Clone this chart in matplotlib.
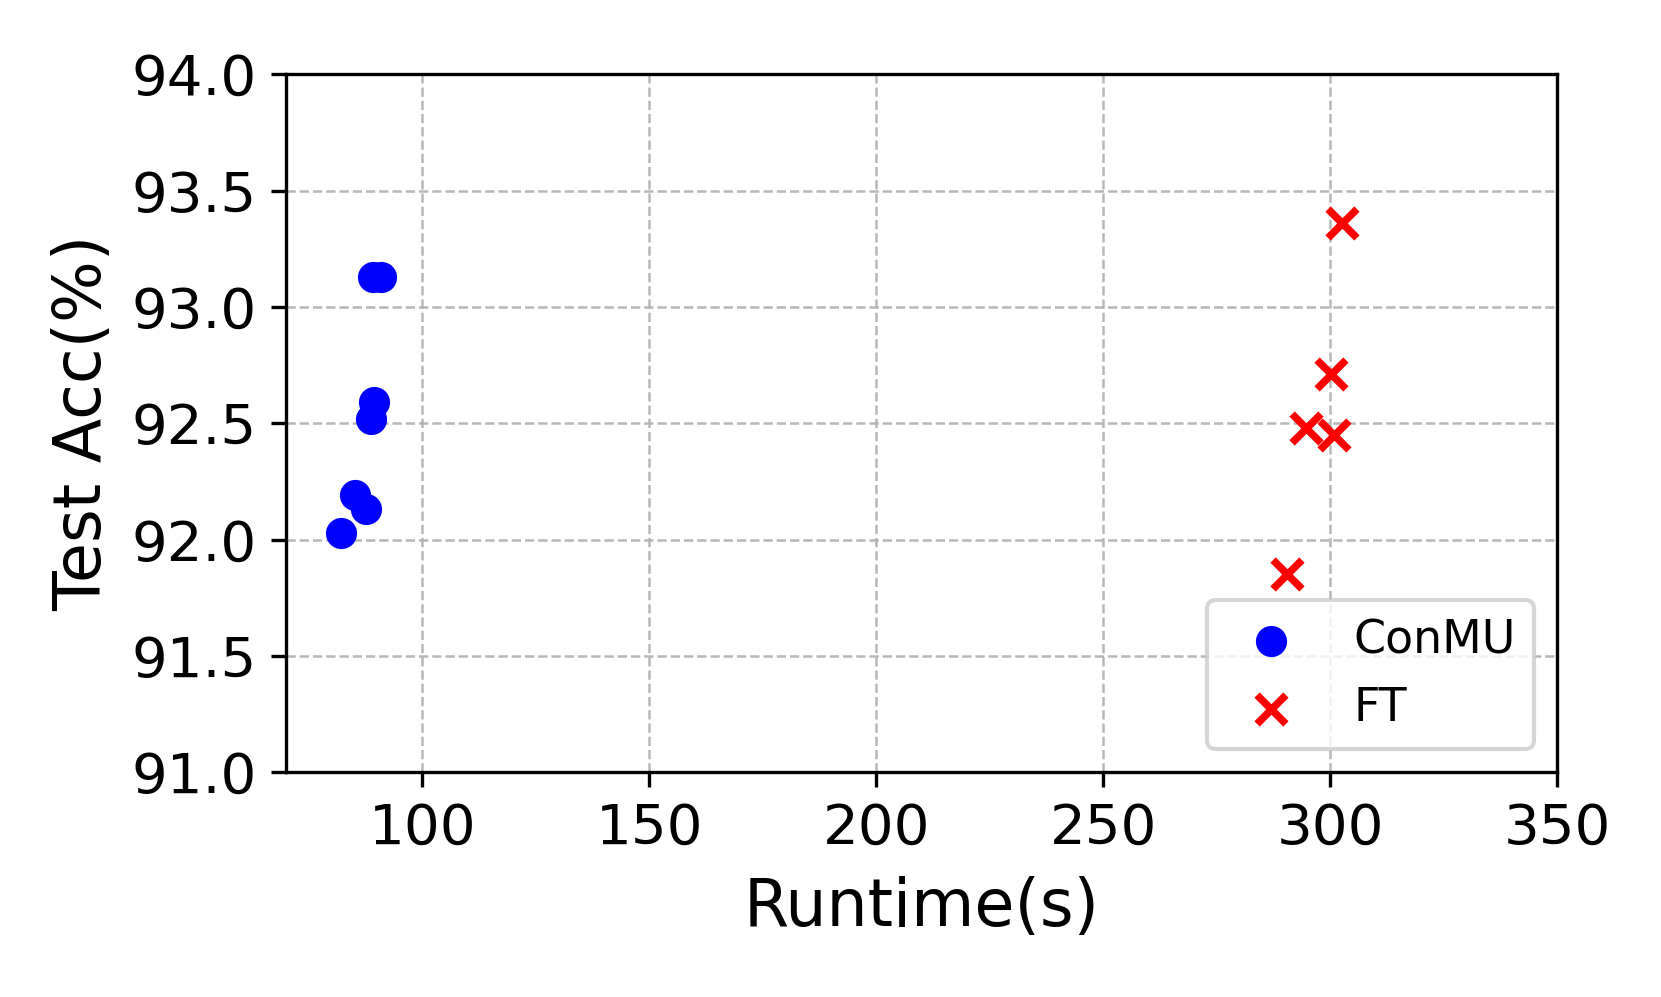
import numpy as np
import matplotlib
matplotlib.use("Agg")
import matplotlib.pyplot as plt


# ConMU runs (runtime in s, test accuracy in %)
conmu_runtime = [89.1, 91.0, 89.3, 88.8, 85.2, 87.7, 82.2]
conmu_acc = [93.13, 93.13, 92.59, 92.52, 92.19, 92.13, 92.03]

# FT runs
ft_runtime = [302.5, 300.1, 294.6, 300.8, 290.5]
ft_acc = [93.36, 92.71, 92.48, 92.45, 91.85]

x_ticks = [100, 150, 200, 250, 300, 350]
y_ticks = [91.0, 91.5, 92.0, 92.5, 93.0, 93.5, 94.0]


fig = plt.figure(figsize=(1661 / 300, 997 / 300), dpi=300)
ax = fig.add_axes([0.1722, 0.2255, 0.9375 - 0.1722, 0.9256 - 0.2255])

ax.scatter(conmu_runtime, conmu_acc, s=42, color="blue", marker="o", label="ConMU", zorder=3)
ax.scatter(ft_runtime, ft_acc, s=48, color="red", marker="x", linewidths=1.8, label="FT", zorder=3)

ax.set_xlim(70, 350)
ax.set_ylim(91.0, 94.0)
ax.set_xticks(x_ticks)
ax.set_yticks(y_ticks)
ax.set_yticklabels([f"{v:.1f}" for v in y_ticks])
ax.tick_params(labelsize=13.5)

ax.set_xlabel("Runtime(s)", fontsize=15.6, labelpad=5)
ax.set_ylabel("Test Acc(%)", fontsize=15.6)

ax.grid(True, linestyle="--", linewidth=0.6, color="#b0b0b0", alpha=0.9)
ax.set_axisbelow(True)

ax.legend(loc="lower right", fontsize=11)

fig.savefig("out.png", dpi=300)
